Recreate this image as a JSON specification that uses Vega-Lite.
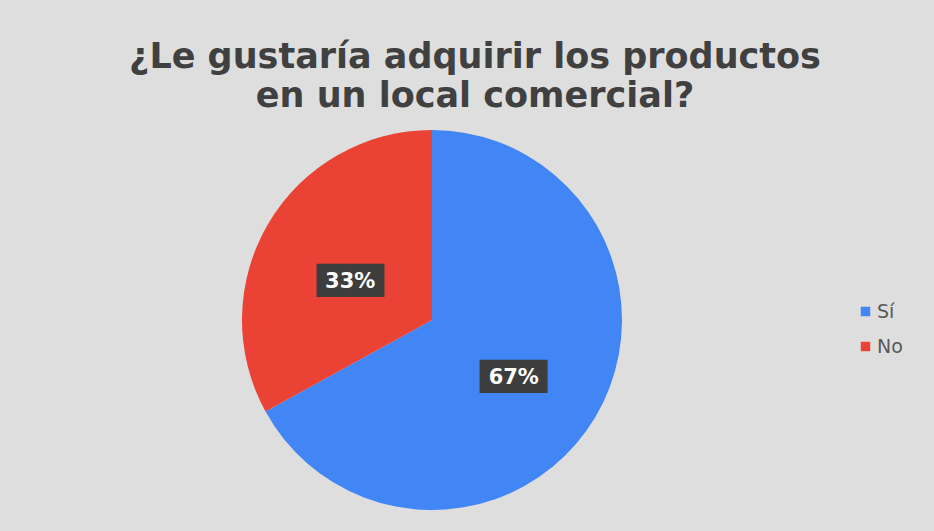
{
  "$schema": "https://vega.github.io/schema/vega-lite/v6.json",
  "width": 864,
  "height": 380,
  "autosize": {"type": "none"},
  "padding": {"left": 0, "top": 130, "right": 70, "bottom": 21},
  "background": "#dedede",
  "title": {
    "text": ["¿Le gustaría adquirir los productos", "en un local comercial?"],
    "font": "DejaVu Sans",
    "fontSize": 35,
    "fontWeight": "bold",
    "color": "#404040",
    "anchor": "middle",
    "dx": 43,
    "offset": 16,
    "lineHeight": 39
  },
  "data": {
    "values": [
      {"respuesta": "Sí", "porcentaje": 67, "etiqueta": "67%", "orden": 1},
      {"respuesta": "No", "porcentaje": 33, "etiqueta": "33%", "orden": 2}
    ]
  },
  "encoding": {
    "theta": {"field": "porcentaje", "type": "quantitative", "stack": true},
    "order": {"field": "orden", "type": "ordinal"}
  },
  "layer": [
    {
      "mark": {"type": "arc"},
      "encoding": {
        "color": {
          "field": "respuesta",
          "type": "nominal",
          "sort": ["Sí", "No"],
          "scale": {"domain": ["Sí", "No"], "range": ["#4285F4", "#EA4335"]},
          "legend": {
            "title": null,
            "orient": "none",
            "legendX": 856,
            "legendY": 172,
            "symbolType": "square",
            "symbolSize": 90,
            "labelFont": "DejaVu Sans",
            "labelFontSize": 19,
            "labelColor": "#595959",
            "rowPadding": 15,
            "labelOffset": 2
          }
        }
      }
    },
    {
      "mark": {"type": "text", "radius": 95, "dy": 10, "font": "DejaVu Sans Mono", "fontSize": 28, "color": "#3d3d3d", "baseline": "middle", "align": "center"},
      "encoding": {"text": {"value": "████"}}
    },
    {
      "mark": {"type": "text", "radius": 95, "dy": 10, "font": "DejaVu Sans", "fontSize": 21, "fontWeight": "bold", "color": "#ffffff", "baseline": "middle", "align": "center"},
      "encoding": {"text": {"field": "etiqueta"}}
    }
  ],
  "config": {"view": {"stroke": null}}
}
